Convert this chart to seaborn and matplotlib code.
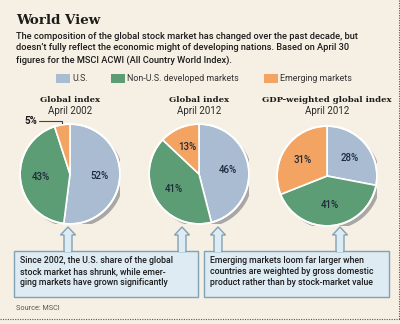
import matplotlib
matplotlib.use("Agg")
import matplotlib.pyplot as plt
from matplotlib import patches
from matplotlib.lines import Line2D
import numpy as np
import seaborn as sns

# ---- data -------------------------------------------------------------
categories = ["U.S.", "Non-U.S. developed markets", "Emerging markets"]
pie_titles = ["Global index", "Global index", "GDP-weighted global index"]
pie_dates = ["April 2002", "April 2012", "April 2012"]
us_share = [52, 46, 28]
non_us_share = [43, 41, 41]
emerging_share = [5, 13, 31]
notes = [
    "Since 2002, the U.S. share of the global\nstock market has shrunk, while emer-\nging markets have grown significantly",
    "Emerging markets loom far larger when\ncountries are weighted by gross domestic\nproduct rather than by stock-market value",
]
title = "World View"
subtitle = ("The composition of the global stock market has changed over the past decade, but\n"
            "doesn\u2019t fully reflect the economic might of developing nations. Based on April 30\n"
            "figures for the MSCI ACWI (All Country World Index).")
source = "Source: MSCI"

# ---- style ------------------------------------------------------------
sns.set_theme(style="white")
SANS = ["Roboto", "DejaVu Sans"]
plt.rcParams["font.family"] = SANS
palette = sns.color_palette(["#a9bcd2", "#5c9d75", "#f3a463"])
BG = "#f6efe3"
INK = "#1c1c1c"
BOX_FILL = "#deebf3"
BOX_EDGE = "#7fa2b7"
SERIF = dict(family="DejaVu Serif", weight="bold")

W, H = 400, 324
fig = plt.figure(figsize=(W / 100, H / 100), dpi=100, facecolor=BG)


def fx(x):
    return x / W


def fy(y):
    return 1 - y / H


# ---- header -----------------------------------------------------------
fig.text(fx(16), fy(21), title, fontsize=9.6, color=INK, va="center",
         ha="left", **SERIF)
fig.text(fx(16), fy(32), subtitle, fontsize=6.65, color=INK, va="top",
         ha="left", linespacing=1.35, weight="medium")

# ---- legend -----------------------------------------------------------
legend_x = [56, 111, 264]
for lx, lab, col in zip(legend_x, categories, palette):
    fig.patches.append(patches.Rectangle((fx(lx), fy(83)), 14 / W, 9 / H,
                                         transform=fig.transFigure,
                                         facecolor=col, edgecolor="none"))
    fig.text(fx(lx + 16), fy(78.5), lab, fontsize=6.4, color="#333333",
             va="center", ha="left")

# ---- pies -------------------------------------------------------------
centers = [(70, 174), (199, 174), (327, 176)]
R = 50
for i, (cx, cy) in enumerate(centers):
    vals = [us_share[i], non_us_share[i], emerging_share[i]]
    ax = fig.add_axes([fx(cx - R), fy(cy + R), 2 * R / W, 2 * R / H])
    ax.set_facecolor("none")
    # drop shadow
    ax.add_patch(patches.Circle((0.07, -0.07), 1.0, facecolor="#9b9b9b",
                                edgecolor="none", alpha=0.85, zorder=0))
    small = [v < 8 for v in vals]
    wedges, _, autotexts = ax.pie(
        vals, colors=palette, startangle=90, counterclock=False,
        autopct=lambda p: "" if p < 8 else f"{p:.0f}%", pctdistance=0.58,
        wedgeprops=dict(edgecolor="white", linewidth=1.2),
        textprops=dict(fontsize=7.0, color="#1d2a3a", weight="medium"),
    )
    for w in wedges:
        w.set_zorder(2)
    ax.add_patch(patches.Circle((0, 0), 1.0, facecolor="none",
                                edgecolor="white", linewidth=1.4, zorder=3))
    for t in autotexts:
        t.set_zorder(4)
    # outside label for the thin slice
    for w, v, s in zip(wedges, vals, small):
        if s:
            ang = np.deg2rad((w.theta1 + w.theta2) / 2)
            px, py = np.cos(ang) * 1.02, np.sin(ang) * 1.02
            ax.add_line(Line2D([px, px, -0.62], [py, py + 0.05, py + 0.05],
                               color="#444444", linewidth=0.8, clip_on=False))
            ax.text(-0.66, py + 0.05, f"{v}%", fontsize=7.0, color=INK,
                    ha="right", va="center", weight="bold")
    ax.set_xlim(-1, 1)
    ax.set_ylim(-1, 1)
    ax.set_aspect("equal")
    ax.axis("off")
    fig.text(fx(cx), fy(100), pie_titles[i], fontsize=6.1, color=INK,
             ha="center", va="center", **SERIF)
    fig.text(fx(cx), fy(111), pie_dates[i], fontsize=7.0, color="#2a2a2a",
             ha="center", va="center")

# ---- note boxes with arrows -------------------------------------------
boxes = [(14, 198), (204, 389)]
box_top, box_bot = 251, 297
for (x0, x1), note in zip(boxes, notes):
    fig.patches.append(patches.Rectangle((fx(x0), fy(box_bot)), (x1 - x0) / W,
                                         (box_bot - box_top) / H,
                                         transform=fig.transFigure,
                                         facecolor=BOX_FILL, edgecolor=BOX_EDGE,
                                         linewidth=1.0))
    fig.text(fx(x0 + 6), fy(256), note, fontsize=6.35, color=INK, va="top",
             ha="left", linespacing=1.32, weight="medium")

arrow_x = [68, 182, 218, 340]
for ax_ in arrow_x:
    hw, sw = 7.5, 4
    pts = [(ax_, 227), (ax_ + hw, 235), (ax_ + sw, 235), (ax_ + sw, box_top + 0.5),
           (ax_ - sw, box_top + 0.5), (ax_ - sw, 235), (ax_ - hw, 235)]
    fig.patches.append(patches.Polygon([(fx(a), fy(b)) for a, b in pts],
                                       closed=True, transform=fig.transFigure,
                                       facecolor=BOX_FILL, edgecolor=BOX_EDGE,
                                       linewidth=1.0, zorder=3))
    fig.patches.append(patches.Rectangle((fx(ax_ - sw + 0.6), fy(box_top + 1.2)),
                                         (2 * sw - 1.2) / W, 2 / H,
                                         transform=fig.transFigure,
                                         facecolor=BOX_FILL, edgecolor="none",
                                         zorder=4))

# ---- footer -----------------------------------------------------------
fig.text(fx(16), fy(309), source, fontsize=5.2, color="#555555",
         va="center", ha="left")
fig.add_artist(Line2D([0, 1], [fy(319), fy(319)], transform=fig.transFigure,
                      color="#555555", linewidth=0.8, linestyle=(0, (1, 1.2))))
fig.add_artist(Line2D([fx(398.5), fx(398.5)], [fy(0), fy(319)],
                      transform=fig.transFigure, color="#555555",
                      linewidth=0.8, linestyle=(0, (1, 1.2))))

fig.savefig("out.png", dpi=100, facecolor=BG)
